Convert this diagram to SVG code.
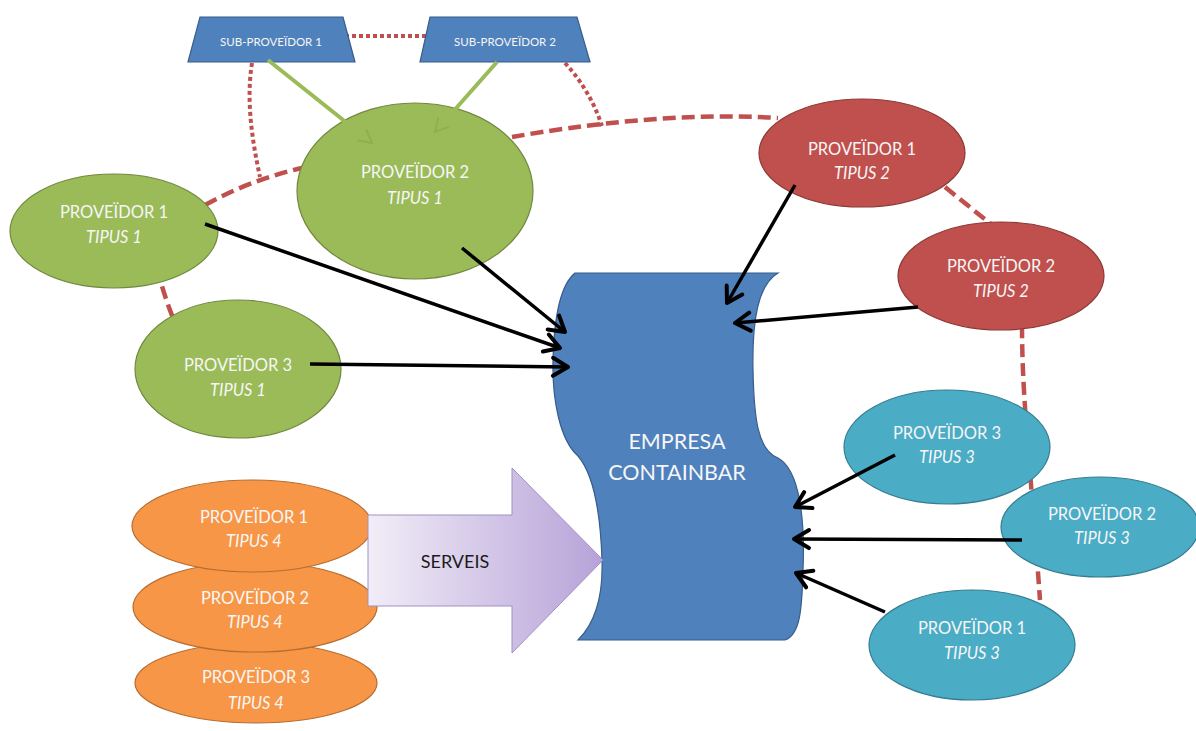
<svg xmlns="http://www.w3.org/2000/svg" width="1196" height="731" viewBox="0 0 1196 731">
<defs>
<marker id="blk" viewBox="-18 -12 22 24" refX="0" refY="0" markerWidth="22" markerHeight="24" markerUnits="userSpaceOnUse" orient="auto">
<path d="M -15 -9 L 0 0 L -15 9" fill="none" stroke="#000" stroke-width="4" stroke-linecap="round" stroke-linejoin="round"/>
</marker>
<marker id="grn" viewBox="-16 -10 20 20" refX="0" refY="0" markerWidth="20" markerHeight="20" markerUnits="userSpaceOnUse" orient="auto">
<path d="M -13 -7 L 0 0 L -13 7" fill="none" stroke="#8fae52" stroke-width="2"/>
</marker>
<linearGradient id="lav" x1="0" y1="0" x2="1" y2="0">
<stop offset="0" stop-color="#f1edf7"/>
<stop offset="1" stop-color="#b7a2d8"/>
</linearGradient>
</defs>
<style>
.t{font-family:Lato,"Liberation Sans",sans-serif;font-size:16.5px;fill:#f6f6f6;text-anchor:middle}
.i{font-style:italic}
.s{font-family:Lato,"Liberation Sans",sans-serif;font-size:11.5px;fill:#f6f6f6;text-anchor:middle}
.g{fill:#9bbb59;stroke:#71893f;stroke-width:1.2}
.r{fill:#c0504d;stroke:#8c3836;stroke-width:1.2}
.c{fill:#4bacc6;stroke:#357d91;stroke-width:1.2}
.o{fill:#f79646;stroke:#b66d31;stroke-width:1.2}
.b{fill:#4f81bd;stroke:#385d8a;stroke-width:1.2}
.dash{fill:none;stroke:#c0504d;stroke-width:4.5;stroke-dasharray:13 6}
.dot{fill:none;stroke:#c0504d;stroke-width:4;stroke-dasharray:4 3}
.ba{fill:none;stroke:#000;stroke-width:3.5;marker-end:url(#blk)}
.ga{fill:none;stroke:#9bbb59;stroke-width:4;marker-end:url(#grn)}
</style>
<rect width="1196" height="731" fill="#fff"/>
<g id="links-dashed">
<path class="dot" d="M 345 36 L 428 36"/>
<path class="dot" d="M 252 63 C 246 100, 252 140, 260 177"/>
<path class="dot" d="M 565 63 Q 590 90 602 126"/>
<path class="dash" d="M 205 205 Q 250 180 302 168"/>
<path class="dash" d="M 512 137 C 580 125, 680 112, 778 118"/>
<path class="dash" d="M 945 187 L 992 225"/>
<path class="dash" d="M 1022 325 C 1022 400, 1030 460, 1040 600"/>
<path class="dash" d="M 157 268 Q 165 300 178 330"/>
</g>
<g id="sub1"><polygon class="b" points="200,17 343,17 355,62 188,62"/><text class="s" x="271" y="46">SUB-PROVEÏDOR 1</text></g>
<g id="sub2"><polygon class="b" points="430,17 577,17 590,62 420,62"/><text class="s" x="505" y="46">SUB-PROVEÏDOR 2</text></g>
<g id="p2t1"><ellipse class="g" cx="415" cy="191" rx="118" ry="88"/><text class="t" x="415" y="178">PROVEÏDOR 2</text><text class="t i" x="415" y="204">TIPUS 1</text></g>
<g id="p1t1"><ellipse class="g" cx="114" cy="231" rx="104" ry="57"/><text class="t" x="114" y="218">PROVEÏDOR 1</text><text class="t i" x="114" y="243">TIPUS 1</text></g>
<g id="p3t1"><ellipse class="g" cx="238" cy="369" rx="103" ry="69"/><text class="t" x="238" y="371">PROVEÏDOR 3</text><text class="t i" x="238" y="396">TIPUS 1</text></g>
<g id="p1t2"><ellipse class="r" cx="862" cy="153" rx="103" ry="54"/><text class="t" x="862" y="155">PROVEÏDOR 1</text><text class="t i" x="862" y="179">TIPUS 2</text></g>
<g id="p2t2"><ellipse class="r" cx="1001" cy="276" rx="103" ry="54"/><text class="t" x="1001" y="272">PROVEÏDOR 2</text><text class="t i" x="1001" y="297">TIPUS 2</text></g>
<g id="p3t3"><ellipse class="c" cx="947" cy="447" rx="103" ry="57"/><text class="t" x="947" y="439">PROVEÏDOR 3</text><text class="t i" x="947" y="463">TIPUS 3</text></g>
<g id="p2t3"><ellipse class="c" cx="1100" cy="527" rx="99" ry="50"/><text class="t" x="1102" y="520">PROVEÏDOR 2</text><text class="t i" x="1102" y="544">TIPUS 3</text></g>
<g id="p1t3"><ellipse class="c" cx="972" cy="645" rx="103" ry="55"/><text class="t" x="972" y="634">PROVEÏDOR 1</text><text class="t i" x="972" y="659">TIPUS 3</text></g>
<g id="p3t4"><ellipse class="o" cx="256" cy="683" rx="121" ry="40"/><text class="t" x="256" y="683">PROVEÏDOR 3</text><text class="t i" x="256" y="709">TIPUS 4</text></g>
<g id="p2t4"><ellipse class="o" cx="255" cy="607" rx="122" ry="45"/><text class="t" x="255" y="604">PROVEÏDOR 2</text><text class="t i" x="255" y="628">TIPUS 4</text></g>
<g id="p1t4"><ellipse class="o" cx="252" cy="526" rx="120" ry="46"/><text class="t" x="254" y="523">PROVEÏDOR 1</text><text class="t i" x="254" y="547">TIPUS 4</text></g>
<g id="containbar"><path class="b" d="M 575 273 L 778 273 C 758 285, 752 320, 753 370 C 754 420, 758 450, 778 458 C 800 470, 805 520, 803 570 C 802 610, 800 635, 785 640 L 578 640 C 598 620, 603 590, 602 560 C 600 500, 590 470, 578 456 C 560 440, 552 400, 553 360 C 554 320, 560 285, 575 273 Z"/><text class="t" style="font-size:21.5px" x="677" y="449">EMPRESA</text><text class="t" style="font-size:21.5px" x="677" y="480">CONTAINBAR</text></g>
<g id="serveis"><polygon points="368,515 512,515 512,468 603,560 512,653 512,606 368,606" fill="url(#lav)" stroke="#a190c4" stroke-width="1"/><text class="t" style="fill:#1b1b1b;font-size:18px" x="455" y="568">SERVEIS</text></g>
<g id="arrows">
<path class="ga" d="M 268 60 L 372 143"/>
<path class="ga" d="M 497 62 L 435 132"/>
<path class="ba" d="M 462 248 L 565 332"/>
<path class="ba" d="M 205 224 L 560 348"/>
<path class="ba" d="M 310 364 L 568 367"/>
<path class="ba" d="M 795 185 L 727 303"/>
<path class="ba" d="M 918 307 L 735 323"/>
<path class="ba" d="M 895 455 L 795 507"/>
<path class="ba" d="M 1022 540 L 794 539"/>
<path class="ba" d="M 885 612 L 796 573"/>
</g>
</svg>
